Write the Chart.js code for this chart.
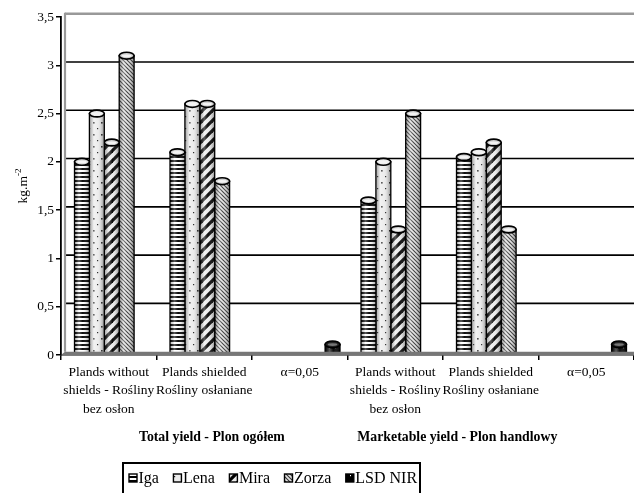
<!DOCTYPE html>
<html>
<head>
<meta charset="utf-8">
<script src="https://cdn.jsdelivr.net/npm/chart.js@4.4.1/dist/chart.umd.min.js"></script>
<style>
  html, body { margin: 0; padding: 0; background: #fff; }
  #wrap { width: 634px; height: 493px; position: relative; }
</style>
</head>
<body>
<div id="wrap"><canvas id="chart" width="634" height="493"></canvas></div>
<script>
// Categories (multi-line x labels)
const categories = [
  ['Plands without', 'shields - Rośliny', 'bez osłon'],
  ['Plands shielded', 'Rośliny osłaniane'],
  ['α=0,05'],
  ['Plands without', 'shields - Rośliny', 'bez osłon'],
  ['Plands shielded', 'Rośliny osłaniane'],
  ['α=0,05']
];
const groupTitles = ['Total yield - Plon ogółem', 'Marketable yield - Plon handlowy'];
const seriesNames = ['Iga', 'Lena', 'Mira', 'Zorza', 'LSD NIR'];

// Yield, kg per m2
const iga   = [2.0, 2.1, null, 1.6, 2.05, null];
const lena  = [2.5, 2.6, null, 2.0, 2.1,  null];
const mira  = [2.2, 2.6, null, 1.3, 2.2,  null];
const zorza = [3.1, 1.8, null, 2.5, 1.3,  null];
const lsd   = [null, null, 0.11, null, null, 0.11];

const yTickValues = [0, 0.5, 1, 1.5, 2, 2.5, 3, 3.5];
const yTickLabels = ['0', '0,5', '1', '1,5', '2', '2,5', '3', '3,5'];
const yAxisTitle = 'kg.m';
const yAxisTitleSup = '-2';

const SERIF = '"Liberation Serif", "Times New Roman", serif';
Chart.defaults.font.family = SERIF;
Chart.defaults.color = '#000';

// ---- fill patterns ----
function tile(w, h, paint) {
  const c = document.createElement('canvas');
  c.width = w; c.height = h;
  const g = c.getContext('2d');
  paint(g, w, h);
  return g.createPattern(c, 'repeat');
}
const patIga = tile(4, 4, (g) => {
  g.fillStyle = '#fff'; g.fillRect(0, 0, 4, 4);
  g.fillStyle = '#000'; g.fillRect(0, 0, 4, 2);
});
const patLena = tile(8, 12, (g) => {
  g.fillStyle = '#ececec'; g.fillRect(0, 0, 8, 12);
  g.fillStyle = '#222';
  g.fillRect(2, 2, 1.6, 1.6);
  g.fillRect(6, 8, 1.2, 1.2);
});
const patMira = tile(10, 10, (g) => {
  g.fillStyle = '#ececec'; g.fillRect(0, 0, 10, 10);
  g.strokeStyle = '#000'; g.lineWidth = 3.2;
  [[0, 10, 10, 0], [-5, 5, 5, -5], [5, 15, 15, 5]].forEach(s => {
    g.beginPath(); g.moveTo(s[0], s[1]); g.lineTo(s[2], s[3]); g.stroke();
  });
});
const patZorza = tile(4, 4, (g) => {
  g.fillStyle = '#e2e2e2'; g.fillRect(0, 0, 4, 4);
  g.strokeStyle = '#333'; g.lineWidth = 1.1;
  [[-1, -1, 5, 5], [-1, 3, 1, 5], [3, -1, 5, 1]].forEach(s => {
    g.beginPath(); g.moveTo(s[0], s[1]); g.lineTo(s[2], s[3]); g.stroke();
  });
});
const patLsd = tile(6, 8, (g) => {
  g.fillStyle = '#000'; g.fillRect(0, 0, 6, 8);
  g.fillStyle = '#fff'; g.fillRect(2, 3, 1, 1.2);
});

const patterns = [patIga, patLena, patMira, patZorza, patLsd];
const capFills = ['#d9d9d9', '#eeeeee', '#d0d0d0', '#cfcfcf', '#222'];
const seriesData = [iga, lena, mira, zorza, lsd];

const DX = 4, DY = 3.3;   // depth offset of the back wall
const BAR_SHIFT = 3;      // columns stand midway in depth

const cylinders = {
  id: 'cylinders',
  beforeDatasetsDraw(chart) {
    const { ctx, chartArea: a, scales: { y } } = chart;
    const yMax = yTickValues[yTickValues.length - 1];
    ctx.save();
    yTickValues.forEach(v => {
      if (v === 0) return;
      const py = y.getPixelForValue(v) - DY;
      ctx.beginPath();
      ctx.strokeStyle = v === yMax ? '#999' : '#000';
      ctx.lineWidth = v === yMax ? 2.5 : 1.6;
      ctx.moveTo(a.left + DX, py);
      ctx.lineTo(a.right, py);
      ctx.stroke();
    });
    ctx.beginPath();
    ctx.strokeStyle = '#999'; ctx.lineWidth = 2.2;
    ctx.moveTo(a.left + DX, y.getPixelForValue(yMax) - DY - 1);
    ctx.lineTo(a.left + DX, y.getPixelForValue(0) - DY);
    ctx.stroke();
    ctx.restore();
  },
  beforeDatasetDraw(chart) {
    chart.ctx.save();
    chart.ctx.translate(BAR_SHIFT, 0);
  },
  afterDatasetDraw(chart, args) {
    const { ctx } = chart;
    const idx = args.index;
    const data = chart.data.datasets[idx].data;
    ctx.save();
    args.meta.data.forEach((bar, i) => {
      if (data[i] == null) return;
      const x = bar.x, top = bar.y, base = bar.base, w = bar.width;
      const l = x - w / 2, r = x + w / 2;
      // round shading across the column
      const g = ctx.createLinearGradient(l, 0, r, 0);
      g.addColorStop(0, 'rgba(0,0,0,0.30)');
      g.addColorStop(0.3, 'rgba(255,255,255,0.35)');
      g.addColorStop(0.55, 'rgba(255,255,255,0.05)');
      g.addColorStop(1, 'rgba(0,0,0,0.40)');
      ctx.fillStyle = g;
      ctx.fillRect(l, top, w, base - top);
      ctx.strokeStyle = '#000';
      ctx.lineWidth = 1.3;
      ctx.strokeRect(l, top, w, base - top);
      // top cap
      ctx.beginPath();
      ctx.ellipse(x, top, w / 2, 3.4, 0, 0, Math.PI * 2);
      ctx.fillStyle = capFills[idx];
      ctx.fill();
      ctx.lineWidth = 1.7;
      ctx.stroke();
      ctx.beginPath();
      ctx.ellipse(x, top + 0.2, Math.max(w / 2 - 2.6, 1), 1.3, 0, 0, Math.PI * 2);
      ctx.fillStyle = idx === 4 ? '#777' : '#f4f4f4';
      ctx.fill();
    });
    ctx.restore();
    ctx.restore();
  },
  afterDatasetsDraw(chart) {
    const { ctx, chartArea: a, scales: { y } } = chart;
    const base = y.getPixelForValue(0);
    ctx.save();
    // floor
    ctx.fillStyle = '#777';
    ctx.beginPath();
    ctx.moveTo(a.left, base);
    ctx.lineTo(a.left + DX, base - DY);
    ctx.lineTo(a.right, base - DY);
    ctx.lineTo(a.right, base);
    ctx.closePath();
    ctx.fill();
    ctx.restore();
  },
  afterDraw(chart) {
    const { ctx, scales: { x } } = chart;
    ctx.save();
    // y axis title with superscript
    ctx.translate(27, 186);
    ctx.rotate(-Math.PI / 2);
    ctx.fillStyle = '#000';
    ctx.font = '13.5px ' + SERIF;
    ctx.textBaseline = 'alphabetic';
    const mw = ctx.measureText(yAxisTitle).width;
    ctx.font = '9px ' + SERIF;
    const sw = ctx.measureText(yAxisTitleSup).width;
    const start = -(mw + sw) / 2;
    ctx.font = '13.5px ' + SERIF;
    ctx.textAlign = 'left';
    ctx.fillText(yAxisTitle, start, 0);
    ctx.font = '9px ' + SERIF;
    ctx.fillText(yAxisTitleSup, start + mw, -6);
    ctx.restore();

    // group titles under the category labels
    ctx.save();
    ctx.font = 'bold 13.8px ' + SERIF;
    ctx.fillStyle = '#000';
    ctx.textAlign = 'center';
    ctx.textBaseline = 'middle';
    ctx.fillText(groupTitles[0], x.getPixelForValue(1.08), 437);
    ctx.fillText(groupTitles[1], x.getPixelForValue(3.65), 437);
    ctx.restore();

    // legend
    ctx.save();
    ctx.strokeStyle = '#000';
    ctx.lineWidth = 2;
    ctx.strokeRect(123, 463, 297, 40);
    ctx.font = '16px ' + SERIF;
    ctx.textBaseline = 'alphabetic';
    ctx.textAlign = 'left';
    let lx = 129;
    const ly = 474, sz = 8;
    chart.data.datasets.forEach((ds, i) => {
      ctx.fillStyle = ds.backgroundColor;
      ctx.fillRect(lx, ly, sz, sz);
      ctx.lineWidth = 1.4;
      ctx.strokeRect(lx, ly, sz, sz);
      ctx.fillStyle = '#000';
      ctx.fillText(ds.label, lx + sz + 1.5, ly + 9);
      lx += sz + 1.5 + ctx.measureText(ds.label).width + 14.5;
    });
    ctx.restore();
  }
};

new Chart(document.getElementById('chart'), {
  type: 'bar',
  data: {
    labels: categories,
    datasets: seriesNames.map((name, i) => ({
      label: name,
      data: seriesData[i],
      backgroundColor: patterns[i],
      borderWidth: 0,
      categoryPercentage: 0.78,
      barPercentage: 1.0
    }))
  },
  options: {
    responsive: false,
    animation: false,
    events: [],
    layout: { padding: { top: 17, right: 0, bottom: 74, left: 0 } },
    plugins: {
      legend: { display: false },
      tooltip: { enabled: false }
    },
    scales: {
      x: {
        offset: true,
        grid: { offset: true, drawOnChartArea: false, drawTicks: true, tickLength: 5, color: '#000', lineWidth: 1.5 },
        border: { display: true, color: '#000', width: 1.5 },
        ticks: {
          autoSkip: false, maxRotation: 0, minRotation: 0, padding: 3,
          font: { size: 13.5, lineHeight: 1.37 }, color: '#000'
        },
        afterFit(scale) { scale.height = 64; }
      },
      y: {
        min: 0, max: 3.5,
        afterBuildTicks(scale) { scale.ticks = yTickValues.map(v => ({ value: v })); },
        grid: { drawOnChartArea: false, drawTicks: true, tickLength: 5, color: '#000', lineWidth: 1.5 },
        border: { display: true, color: '#000', width: 1.8 },
        ticks: {
          padding: 2,
          font: { size: 13.5 }, color: '#000',
          callback(value) { return yTickLabels[yTickValues.indexOf(value)]; }
        },
        afterFit(scale) { scale.width = 61; }
      }
    }
  },
  plugins: [cylinders]
});
</script>
</body>
</html>
